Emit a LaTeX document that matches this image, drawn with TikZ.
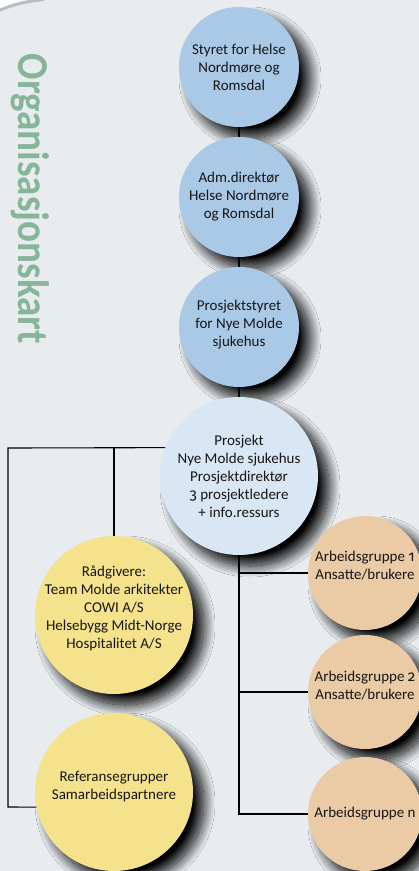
\documentclass[tikz,border=0pt]{standalone}
\usepackage{fontspec}
\setmainfont{Carlito}
\newfontfamily\osf{Fira Sans}[Numbers=OldStyle]
\usetikzlibrary{shadows.blur}
\definecolor{panelc}{HTML}{E8ECEF}
\definecolor{edgec}{HTML}{B6BDC3}
\definecolor{bluec}{HTML}{A9C9E7}
\definecolor{paleblue}{HTML}{D9E6F3}
\definecolor{yellowc}{HTML}{F5E28C}
\definecolor{peachc}{HTML}{EBCBA6}
\definecolor{greenc}{HTML}{86B59A}
\definecolor{inkc}{HTML}{161616}
\begin{document}
\begin{tikzpicture}[x=1pt,y=1pt,
  bubble/.style={circle, inner sep=0pt, draw=none,
    blur shadow={shadow xshift=11pt, shadow yshift=-11pt, shadow blur radius=11pt, shadow blur steps=25, shadow opacity=100}},
  smallb/.style={bubble, minimum size=120pt, fill=bluec},
  bigb/.style={bubble, minimum size=158pt, fill=#1},
  workb/.style={bubble, minimum size=114pt, fill=peachc},
  lbl/.style={align=center, inner sep=0pt, text=inkc, font=\fontsize{15}{18}\selectfont},
  link/.style={draw=black, line width=1.1pt}
]
\useasboundingbox (0,0) rectangle (419,-871);
\fill[panelc] (0,0) rectangle (419,-871);
\fill[white] (0,0) -- (0,-10) .. controls (12,-5) and (24,-1.5) .. (42,0) -- cycle;
\draw[edgec, line width=3pt] (-1,-10.5) .. controls (12,-5) and (24,-1.5) .. (44,0.5);

\node[font=\bfseries, text=greenc, rotate=-90, anchor=base, inner sep=0pt] (title) at (19,-199)
  {\scalebox{0.888}[1]{\fontsize{44}{44}\selectfont Organisasjonskart}};

\node[smallb] (st) at (239,-67) {};
\node[smallb] (ad) at (239,-197) {};
\node[smallb] (ps) at (239,-327) {};
\node[bigb=paleblue] (pj) at (239,-476) {};
\node[bigb=yellowc] (rad) at (114,-615) {};
\node[bigb=yellowc] (ref) at (114,-792) {};
\node[workb] (ag1) at (365,-573) {};
\node[workb] (ag2) at (365,-692) {};
\node[workb] (agn) at (365,-814) {};

\coordinate (tl) at (8,-448);
\coordinate (bl) at (8,-807);

\draw[link] (st.south) -- (ad.north);
\draw[link] (ad.south) -- (ps.north);
\draw[link] (ps.south) -- (pj.north);
\draw[link] (pj.south) |- (agn.west);
\draw[link] (pj.south |- ag1.west) -- (ag1.west);
\draw[link] (pj.south |- ag2.west) -- (ag2.west);
\draw[link] (pj.159) -- (tl) -- (bl) -- (ref.191);
\draw[link] (rad.north) -- (rad.north |- tl);

\node[lbl] (stt) at (st) {Styret for Helse\\Nordmøre og\\Romsdal};
\node[lbl] (adt) at (ad) {Adm.direktør\\Helse Nordmøre\\og Romsdal};
\node[lbl] (pst) at ([yshift=2pt]ps.center) {Prosjektstyret\\for Nye Molde\\sjukehus};
\node[lbl] (pjt) at (pj) {Prosjekt\\Nye Molde sjukehus\\Prosjektdirektør\\{\osf 3} prosjektledere\\+ info.ressurs};
\node[lbl] (radt) at ([yshift=7pt]rad.center) {Rådgivere:\\Team Molde arkitekter\\COWI A/S\\Helsebygg Midt-Norge\\Hospitalitet A/S};
\node[lbl] (reft) at ([yshift=5pt]ref.center) {Referansegrupper\\Samarbeidspartnere};
\node[lbl] (ag1t) at ([yshift=7pt]ag1.center) {Arbeidsgruppe {\osf 1}\\Ansatte/brukere};
\node[lbl] (ag2t) at ([yshift=6pt]ag2.center) {Arbeidsgruppe {\osf 2}\\Ansatte/brukere};
\node[lbl] (agnt) at (agn) {Arbeidsgruppe n};
\end{tikzpicture}
\end{document}
